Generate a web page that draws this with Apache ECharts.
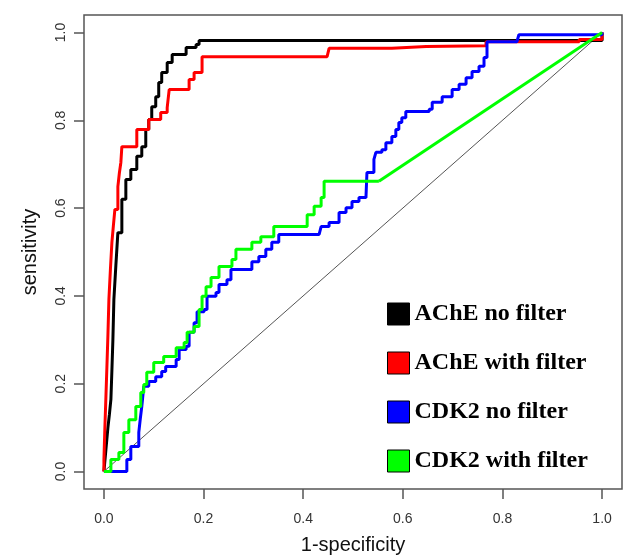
<!DOCTYPE html>
<html>
<head>
<meta charset="utf-8">
<script src="https://cdn.jsdelivr.net/npm/echarts@6/dist/echarts.min.js"></script>
<style>
    html, body { margin: 0; padding: 0; background: #fff; }
    #main { width: 623px; height: 558px; }
</style>
</head>
<body>
<div id="main"></div>
<script>
    // ROC curves, [1-specificity, sensitivity] corners
    var acheNoFilter = [
        [0, 0], [0.004, 0.05], [0.008, 0.10], [0.011, 0.13], [0.014, 0.164], [0.016, 0.23],
        [0.018, 0.30], [0.020, 0.392], [0.024, 0.47], [0.028, 0.544], [0.036, 0.620],
        [0.044, 0.665], [0.054, 0.688], [0.066, 0.718], [0.076, 0.740], [0.084, 0.779],
        [0.090, 0.802], [0.096, 0.831], [0.104, 0.854], [0.110, 0.886], [0.116, 0.909],
        [0.127, 0.932], [0.137, 0.950], [0.157, 0.950], [0.165, 0.966], [0.185, 0.973],
        [0.191, 0.982], [0.958, 0.982], [1, 1]
    ];
    var acheWithFilter = [
        [0, 0], [0, 0.027], [0.002, 0.103], [0.004, 0.17], [0.006, 0.239], [0.008, 0.31],
        [0.010, 0.392], [0.013, 0.46], [0.016, 0.522], [0.019, 0.56], [0.022, 0.597],
        [0.028, 0.649], [0.031, 0.68], [0.034, 0.704], [0.036, 0.740],
        [0.060, 0.740], [0.066, 0.779], [0.076, 0.779], [0.090, 0.802], [0.106, 0.802],
        [0.114, 0.818], [0.127, 0.829], [0.131, 0.870], [0.165, 0.870], [0.171, 0.893],
        [0.181, 0.909], [0.191, 0.909], [0.197, 0.945], [0.448, 0.945], [0.452, 0.964],
        [0.578, 0.968], [0.647, 0.970], [0.767, 0.979], [0.954, 0.984], [1, 1]
    ];
    var cdk2NoFilter = [
        [0, 0], [0.034, 0], [0.046, 0.027], [0.054, 0.057], [0.060, 0.057],
        [0.070, 0.089], [0.073, 0.12], [0.076, 0.148], [0.080, 0.194], [0.090, 0.205], [0.104, 0.216],
        [0.116, 0.228], [0.124, 0.239], [0.145, 0.255], [0.151, 0.278], [0.165, 0.285],
        [0.171, 0.317], [0.181, 0.339], [0.187, 0.364], [0.201, 0.369], [0.207, 0.399],
        [0.225, 0.408], [0.231, 0.426], [0.247, 0.437], [0.255, 0.460], [0.291, 0.460],
        [0.297, 0.478], [0.311, 0.490], [0.325, 0.506], [0.337, 0.522], [0.351, 0.540],
        [0.432, 0.540], [0.436, 0.558], [0.452, 0.567], [0.472, 0.590], [0.486, 0.601],
        [0.498, 0.615], [0.512, 0.624], [0.526, 0.624], [0.528, 0.681], [0.542, 0.711],
        [0.546, 0.727], [0.558, 0.733], [0.566, 0.749], [0.578, 0.763], [0.586, 0.779],
        [0.592, 0.795], [0.598, 0.806], [0.606, 0.820], [0.633, 0.820], [0.653, 0.825],
        [0.659, 0.841], [0.679, 0.854], [0.699, 0.870], [0.713, 0.882], [0.727, 0.897],
        [0.739, 0.911], [0.753, 0.923], [0.763, 0.943], [0.769, 0.979], [0.829, 0.979],
        [0.833, 0.995], [1, 1]
    ];
    var cdk2WithFilter = [
        [0, 0], [0.014, 0.027], [0.030, 0.043], [0.040, 0.089], [0.050, 0.118],
        [0.064, 0.148], [0.074, 0.180], [0.080, 0.198], [0.086, 0.226], [0.100, 0.248],
        [0.120, 0.262], [0.145, 0.282], [0.161, 0.294], [0.167, 0.317], [0.181, 0.330],
        [0.191, 0.369], [0.197, 0.399], [0.205, 0.421], [0.215, 0.442], [0.231, 0.467],
        [0.257, 0.483], [0.265, 0.506], [0.297, 0.522], [0.315, 0.535], [0.341, 0.558],
        [0.402, 0.558], [0.408, 0.585], [0.422, 0.604], [0.436, 0.624], [0.442, 0.661],
        [0.552, 0.661]
    ];
    // last stretch of the green curve is a straight segment
    var cdk2WithFilterTail = [[0.552, 0.661], [1, 1]];
    var chanceLine = [[0, 0], [1, 1]];

    var tickValues = [0, 0.2, 0.4, 0.6, 0.8, 1.0];
    var names = ['AChE no filter', 'AChE with filter', 'CDK2 no filter', 'CDK2 with filter'];
    var colors = ['#000000', '#ff0000', '#0000ff', '#00ff00'];

    var chart = echarts.init(document.getElementById('main'));

    function rocSeries(name, data, color, step) {
        return {
            name: name,
            type: 'line',
            data: data,
            step: step,
            symbol: 'none',
            showSymbol: false,
            silent: true,
            color: color,
            lineStyle: {color: color, width: 3},
            animation: false
        };
    }

    var axisFont = 'Liberation Sans, Arial, sans-serif';

    chart.setOption({
        animation: false,
        grid: {
            left: 84, top: 15, right: 1, bottom: 69,
            outerBoundsMode: 'none',
            containLabel: false,
            show: true,
            borderColor: '#555',
            borderWidth: 1.5,
            backgroundColor: '#fff'
        },
        legend: {
            data: names,
            orient: 'vertical',
            left: 382,
            top: 297,
            icon: 'rect',
            itemWidth: 22,
            itemHeight: 22,
            itemGap: 25,
            itemStyle: {borderColor: '#000', borderWidth: 1},
            textStyle: {
                fontFamily: 'Liberation Serif, Times New Roman, serif',
                fontWeight: 'bold',
                fontSize: 24,
                color: '#000'
            },
            selectedMode: false
        },
        xAxis: {
            type: 'value',
            min: -0.04,
            max: 1.04,
            name: '1-specificity',
            nameLocation: 'middle',
            nameGap: 46,
            nameTextStyle: {fontFamily: axisFont, fontSize: 20, color: '#111'},
            axisLine: {show: false, onZero: false},
            axisTick: {show: true, customValues: tickValues, length: 10, lineStyle: {color: '#555', width: 1.5}},
            axisLabel: {
                customValues: tickValues,
                margin: 23,
                fontFamily: axisFont,
                fontSize: 14,
                color: '#333',
                formatter: function (v) { return v.toFixed(1); }
            },
            splitLine: {show: false}
        },
        yAxis: {
            type: 'value',
            min: -0.04,
            max: 1.04,
            name: 'sensitivity',
            nameLocation: 'middle',
            nameGap: 44,
            nameTextStyle: {fontFamily: axisFont, fontSize: 20, color: '#111'},
            axisLine: {show: false, onZero: false},
            axisTick: {show: true, customValues: tickValues, length: 10, lineStyle: {color: '#555', width: 1.5}},
            axisLabel: {
                customValues: tickValues,
                rotate: 90,
                margin: 16,
                fontFamily: axisFont,
                fontSize: 14,
                color: '#333',
                formatter: function (v) { return v.toFixed(1); }
            },
            splitLine: {show: false}
        },
        series: [
            {
                type: 'line',
                data: chanceLine,
                symbol: 'none',
                silent: true,
                lineStyle: {color: '#555', width: 1}
            },
            rocSeries(names[0], acheNoFilter, colors[0], 'end'),
            rocSeries(names[1], acheWithFilter, colors[1], 'end'),
            rocSeries(names[2], cdk2NoFilter, colors[2], 'end'),
            rocSeries(names[3], cdk2WithFilter, colors[3], 'end'),
            rocSeries('', cdk2WithFilterTail, colors[3], false)
        ]
    });
</script>
</body>
</html>
